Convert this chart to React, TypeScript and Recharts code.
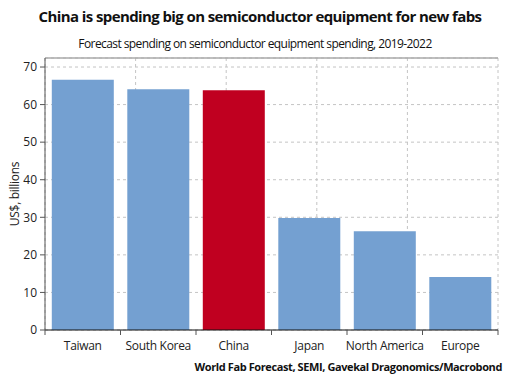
import { Bar, BarChart, CartesianGrid, Cell, Label, ReferenceLine, XAxis, YAxis } from "recharts";

const regions = ["Taiwan", "South Korea", "China", "Japan", "North America", "Europe"];
const spending = [66.6, 64.1, 63.8, 29.8, 26.3, 14.1];
const yTicks = [0, 10, 20, 30, 40, 50, 60, 70];
const yTop = 72.4;
const boundaries = [0, 1, 2, 3, 4, 5, 6];

const BLUE = "#74a0d1";
const RED = "#c00020";
const FONT = "'Open Sans', 'Noto Sans', sans-serif";

const data = regions.map((region, i) => ({ region, value: spending[i] }));

function RegionTick(props: any) {
  const { x, y, payload, index } = props;
  const half = payload?.offset ?? 0;
  const axisY = y;
  return (
    <g>
      <line x1={x - half} x2={x - half} y1={axisY} y2={axisY + 5} stroke="#555" />
      {index === regions.length - 1 && (
        <line x1={x + half} x2={x + half} y1={axisY} y2={axisY + 5} stroke="#555" />
      )}
      <text x={x} y={axisY + 20} textAnchor="middle" fontSize={12} letterSpacing={-0.3} fill="#222" fontFamily={FONT}>
        {payload.value}
      </text>
    </g>
  );
}

export default function App() {
  return (
    <div style={{ position: "absolute", left: 0, top: 0, width: 512, height: 384, background: "#fff", fontFamily: FONT }}>
      <div
        style={{
          position: "absolute",
          top: 6,
          left: 0,
          width: 520,
          textAlign: "center",
          fontSize: 15,
          fontWeight: 700,
          letterSpacing: -0.6,
          color: "#111",
        }}
      >
        China is spending big on semiconductor equipment for new fabs
      </div>
      <div
        style={{
          position: "absolute",
          top: 35,
          left: 0,
          width: 510,
          textAlign: "center",
          fontSize: 12,
          letterSpacing: -0.58,
          color: "#111",
        }}
      >
        Forecast spending on semiconductor equipment spending, 2019-2022
      </div>
      <div
        style={{
          position: "absolute",
          top: 359,
          right: 10,
          fontSize: 11,
          fontWeight: 700,
          letterSpacing: -0.4,
          color: "#111",
        }}
      >
        World Fab Forecast, SEMI, Gavekal Dragonomics/Macrobond
      </div>
      <div style={{ position: "absolute", left: 0, top: 0 }}>
        <BarChart
          width={512}
          height={384}
          data={data}
          margin={{ top: 58, right: 14, left: 0, bottom: 0 }}
          barCategoryGap="9%"
        >
          <CartesianGrid xAxisId="grid" stroke="#c4c4c4" strokeDasharray="3 3" />
          <XAxis
            dataKey="region"
            height={54}
            axisLine={{ stroke: "#111", strokeWidth: 1.2 }}
            tickLine={false}
            tickSize={0}
            tickMargin={0}
            interval={0}
            tick={<RegionTick />}
          />
          <XAxis
            xAxisId="grid"
            type="number"
            domain={[0, 6]}
            ticks={boundaries}
            allowDataOverflow
            hide
          />
          <YAxis
            width={45}
            domain={[0, yTop]}
            ticks={yTicks}
            allowDataOverflow
            axisLine={{ stroke: "#555" }}
            tickLine={{ stroke: "#555" }}
            tickSize={5}
            tickMargin={3}
            tick={{ fill: "#222", fontSize: 12, fontFamily: FONT }}
          >
            <Label
              content={({ viewBox }: any) => {
                const cx = 14;
                const cy = viewBox.y + viewBox.height / 2;
                return (
                  <text
                    x={cx}
                    y={cy}
                    transform={`rotate(-90 ${cx} ${cy})`}
                    textAnchor="middle"
                    dominantBaseline="central"
                    fontSize={12}
                    letterSpacing={-0.3}
                    fill="#222"
                    fontFamily={FONT}
                  >
                    US$, billions
                  </text>
                );
              }}
            />
          </YAxis>
          <ReferenceLine y={yTop} stroke="#aaa" strokeWidth={1.5} />
          <ReferenceLine xAxisId="grid" x={6} stroke="#555" strokeWidth={1.5} />
          <Bar dataKey="value" isAnimationActive={false}>
            {data.map((d) => (
              <Cell key={d.region} fill={d.region === "China" ? RED : BLUE} />
            ))}
          </Bar>
        </BarChart>
      </div>
    </div>
  );
}
